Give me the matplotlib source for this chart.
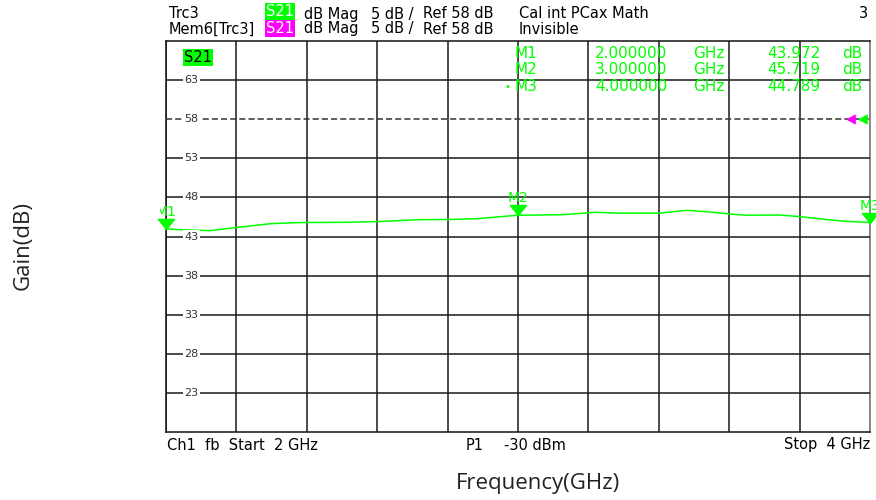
import matplotlib.pyplot as plt
import numpy as np
from matplotlib.path import Path
from matplotlib.transforms import Bbox

# trace (GHz, dB)
freq_ghz = [2.00, 2.05, 2.125, 2.20, 2.30, 2.38, 2.52, 2.61, 2.72, 2.81, 2.89,
            3.00, 3.12, 3.18, 3.22, 3.29, 3.40, 3.48, 3.55, 3.60, 3.65, 3.74,
            3.80, 3.89, 3.93, 4.00]
gain_db = [43.97, 43.85, 43.75, 44.15, 44.65, 44.78, 44.82, 44.92, 45.15, 45.18, 45.30,
           45.72, 45.78, 45.95, 46.10, 45.98, 45.98, 46.35, 46.12, 45.88, 45.72, 45.75,
           45.55, 45.10, 44.95, 44.79]

marker_names = ['M1', 'M2', 'M3']
marker_freq = [2.0, 3.0, 4.0]
marker_gain = [43.972, 45.719, 44.789]

y_ticks = [23, 28, 33, 38, 43, 48, 53, 58, 63]
ref_level = 58
x_start, x_stop = 2.0, 4.0
y_bottom, y_top = 18, 68

W, H = 876, 500
GREEN = '#00ff00'
MAGENTA = '#ff00ff'
FONT = ['DejaVu Sans']


def fx(px):
    return px / W


def fy(py):
    return 1 - py / H


fig = plt.figure(figsize=(W / 100, H / 100), dpi=100)
ax = fig.add_axes([fx(166), fy(432), (870 - 166) / W, (432 - 41) / H])
ax.set_xlim(x_start, x_stop)
ax.set_ylim(y_bottom, y_top)
ax.set_xticks(np.linspace(x_start, x_stop, 11))
ax.set_yticks([])
ax.tick_params(length=0, labelbottom=False, labelleft=False)
ax.grid(axis='x', color='#1a1a1a', lw=1.1, zorder=5)
for s in ['left', 'top', 'bottom']:
    ax.spines[s].set_color('#111111')
    ax.spines[s].set_linewidth(1.1)
ax.spines['right'].set_color('#888888')
ax.spines['right'].set_linewidth(1.3)

# horizontal grid with level labels
for v in y_ticks:
    ls = (0, (4, 2)) if v == ref_level else '-'
    col = '#333333' if v == ref_level else '#1a1a1a'
    ax.axhline(v, color=col, lw=1.1, ls=ls, zorder=5)
    ax.text(0.036, v, str(v), transform=ax.get_yaxis_transform(), ha='center', va='center',
            fontsize=8, color='#333333', family=FONT, zorder=6,
            bbox=dict(facecolor='white', edgecolor='none', pad=1.0))

# trace
ax.plot(freq_ghz, gain_db, color=GREEN, lw=1.1, zorder=4, clip_on=False)

# marker triangles (tip at data point)
tri_down = Path([(0, 0), (-0.8, 1), (0.8, 1), (0, 0)],
                [Path.MOVETO, Path.LINETO, Path.LINETO, Path.CLOSEPOLY])
ax.plot(marker_freq, marker_gain, ls='none', marker=tri_down, ms=14.5,
        color=GREEN, zorder=7, clip_on=False)
clip = Bbox.from_extents(160, 0, 876, 500)
for name, f, g in zip(marker_names, marker_freq, marker_gain):
    t = ax.annotate(name, (f, g), xytext=(0, 17), textcoords='offset pixels',
                    ha='center', va='center', fontsize=10, color=GREEN,
                    family=FONT, zorder=7, annotation_clip=False)
    t.set_clip_box(clip)
    t.set_clip_on(True)

# reference level arrows at the right edge
tri_left = Path([(0, 0), (1, 0.55), (1, -0.55), (0, 0)],
                [Path.MOVETO, Path.LINETO, Path.LINETO, Path.CLOSEPOLY])
ax.plot([0.967], [ref_level], marker=tri_left, ms=11, color=MAGENTA, ls='none',
        transform=ax.get_yaxis_transform(), zorder=8, clip_on=False)
ax.plot([0.984], [ref_level], marker=tri_left, ms=11, color=GREEN, ls='none',
        transform=ax.get_yaxis_transform(), zorder=8, clip_on=False)

# S21 label inside the diagram
fig.text(fx(198), fy(57.5), 'S21', ha='center', va='center', fontsize=10.5,
         family=FONT, color='black', zorder=9,
         bbox=dict(facecolor=GREEN, edgecolor='none', pad=0.8))

# marker table
rows_y = [53, 69.5, 86.5]
for name, f, g, py in zip(marker_names, marker_freq, marker_gain, rows_y):
    kw = dict(fontsize=11, color=GREEN, family=FONT, va='center', zorder=3)
    fig.text(fx(514), fy(py), name, ha='left', **kw)
    fig.text(fx(667), fy(py), f'{f:.6f}', ha='right', **kw)
    fig.text(fx(693), fy(py), 'GHz', ha='left', **kw)
    fig.text(fx(820), fy(py), f'{g:.3f}', ha='right', **kw)
    fig.text(fx(842), fy(py), 'dB', ha='left', **kw)
fig.text(fx(505), fy(rows_y[2]), '•', ha='left', va='center', fontsize=7,
         color=GREEN, family=FONT)

# header lines
hkw = dict(fontsize=10.5, family=FONT, color='black', va='center')
fig.text(fx(169), fy(14), 'Trc3', ha='left', **hkw)
fig.text(fx(169), fy(29), 'Mem6[Trc3]', ha='left', **hkw)
fig.text(fx(280), fy(11.5), 'S21', ha='center', fontsize=10.5, family=FONT, color='white',
         va='center', bbox=dict(facecolor=GREEN, edgecolor='none', pad=0.8))
fig.text(fx(280), fy(28.5), 'S21', ha='center', fontsize=10.5, family=FONT, color='white',
         va='center', bbox=dict(facecolor=MAGENTA, edgecolor='none', pad=0.8))
for py in (14, 29):
    fig.text(fx(304), fy(py), 'dB Mag', ha='left', **hkw)
    fig.text(fx(371), fy(py), '5 dB /', ha='left', **hkw)
    fig.text(fx(423), fy(py), 'Ref 58 dB', ha='left', **hkw)
fig.text(fx(519), fy(14), 'Cal int PCax Math', ha='left', **hkw)
fig.text(fx(519), fy(29), 'Invisible', ha='left', **hkw)
fig.text(fx(868), fy(14), '3', ha='right', **hkw)

# footer line
fig.text(fx(167), fy(445), 'Ch1  fb  Start  2 GHz', ha='left', **hkw)
fig.text(fx(466), fy(445), 'P1', ha='left', **hkw)
fig.text(fx(566), fy(445), '-30 dBm', ha='right', **hkw)
fig.text(fx(870), fy(445), 'Stop  4 GHz', ha='right', **hkw)

# axis titles
fig.text(fx(538), fy(484), 'Frequency(GHz)', ha='center', va='center',
         fontsize=16, family='Open Sans', color='#222222')
fig.text(fx(23), fy(246), 'Gain(dB)', ha='center', va='center', rotation=90,
         fontsize=16, family='Open Sans', color='#222222')

fig.savefig('out.png', dpi=100)
